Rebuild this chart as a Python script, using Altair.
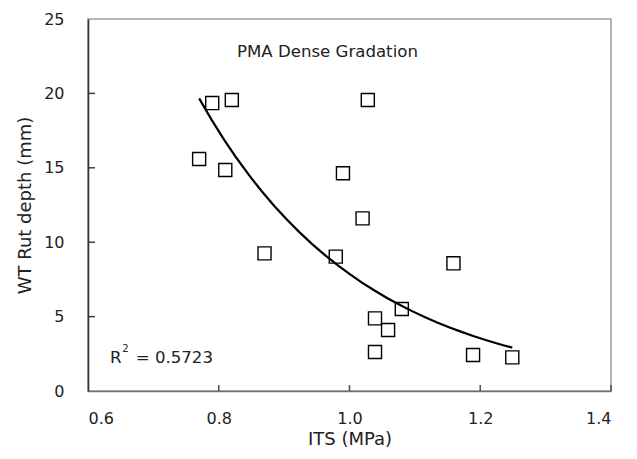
import altair as alt
import pandas as pd

# measured data (ITS in MPa, rut depth in mm)
its = [0.790, 0.820, 0.770, 0.810, 0.870, 1.028, 0.990, 1.020, 0.979,
       1.159, 1.080, 1.039, 1.059, 1.039, 1.189, 1.249]
rut = [19.35, 19.56, 15.59, 14.85, 9.25, 19.56, 14.63, 11.60, 9.03,
       8.58, 5.51, 4.88, 4.10, 2.62, 2.42, 2.26]

x_ticks = [0.8, 1.0, 1.2, 1.4]
y_ticks = [5, 10, 15, 20]

FONT = "DejaVu Sans"

df = pd.DataFrame({"x": its, "y": rut})
xs = alt.Scale(domain=[0.6, 1.4], nice=False, zero=False)
ys = alt.Scale(domain=[0, 25], nice=False, zero=False)

xax = alt.Axis(values=x_ticks + [0.6], format=".1f", ticks=False, tickSize=0, grid=False,
               labelPadding=19, labelFontSize=16, labelFont=FONT, labelColor="#222",
               title="ITS (MPa)", titleFont=FONT, titleFontSize=18, titleFontWeight="normal",
               titleColor="#222", titleY=53, titleBaseline="alphabetic",
               domainColor="#707070", domainWidth=1.6)
yax = alt.Axis(values=[0] + y_ticks + [25], format="d", ticks=False, tickSize=0, grid=False,
               labelPadding=24, labelFontSize=16, labelFont=FONT, labelColor="#222",
               title="WT Rut depth (mm)", titleFont=FONT, titleFontSize=18,
               titleFontWeight="normal", titleColor="#222", titleX=-58,
               titleBaseline="alphabetic", domainColor="#333", domainWidth=1.6)

base = alt.Chart(df)

points = base.mark_point(shape="square", size=170, filled=False, color="black",
                         strokeWidth=1.4, opacity=1).encode(
    x=alt.X("x:Q", scale=xs, axis=xax),
    y=alt.Y("y:Q", scale=ys, axis=yax),
)

# exponential trendline (least squares on ln y, as in a spreadsheet trendline)
trend = base.transform_calculate(ly="log(datum.y)").transform_regression(
    "x", "ly", method="poly", order=1
).transform_calculate(yf="exp(datum.ly)").mark_line(
    color="black", strokeWidth=2.2
).encode(x=alt.X("x:Q", scale=xs), y=alt.Y("yf:Q", scale=ys))

xt = alt.Chart(pd.DataFrame({"t": x_ticks})).mark_rule(color="#555", strokeWidth=1.6).encode(
    x=alt.X("t:Q", scale=xs), y=alt.value(372), y2=alt.value(366))
yt = alt.Chart(pd.DataFrame({"t": y_ticks})).mark_rule(color="#333", strokeWidth=1.4).encode(
    y=alt.Y("t:Q", scale=ys), x=alt.value(0), x2=alt.value(7))

ann = pd.DataFrame({
    "x": [0.8279, 0.6337, 0.6730],
    "y": [22.45, 1.882, 1.882],
    "t": ["PMA Dense Gradation", "R", "= 0.5723"],
})
txt = alt.Chart(ann).mark_text(align="left", baseline="alphabetic", font=FONT,
                               fontSize=16.6, color="#222").encode(
    x=alt.X("x:Q", scale=xs), y=alt.Y("y:Q", scale=ys), text="t:N")
sup = alt.Chart(pd.DataFrame({"x": [0.6525], "y": [2.65], "t": ["2"]})).mark_text(
    align="left", baseline="alphabetic", font=FONT, fontSize=10, color="#222").encode(
    x=alt.X("x:Q", scale=xs), y=alt.Y("y:Q", scale=ys), text="t:N")

chart = alt.layer(trend, points, xt, yt, txt, sup).properties(
    width=523, height=372,
    autosize=alt.AutoSizeParams(type="none"),
    padding={"left": 80, "top": 11, "right": 18, "bottom": 60},
).configure_view(stroke="#a0a0a0", strokeWidth=1.6)

chart.save("out.html", embed_options={"renderer": "svg", "actions": False})
